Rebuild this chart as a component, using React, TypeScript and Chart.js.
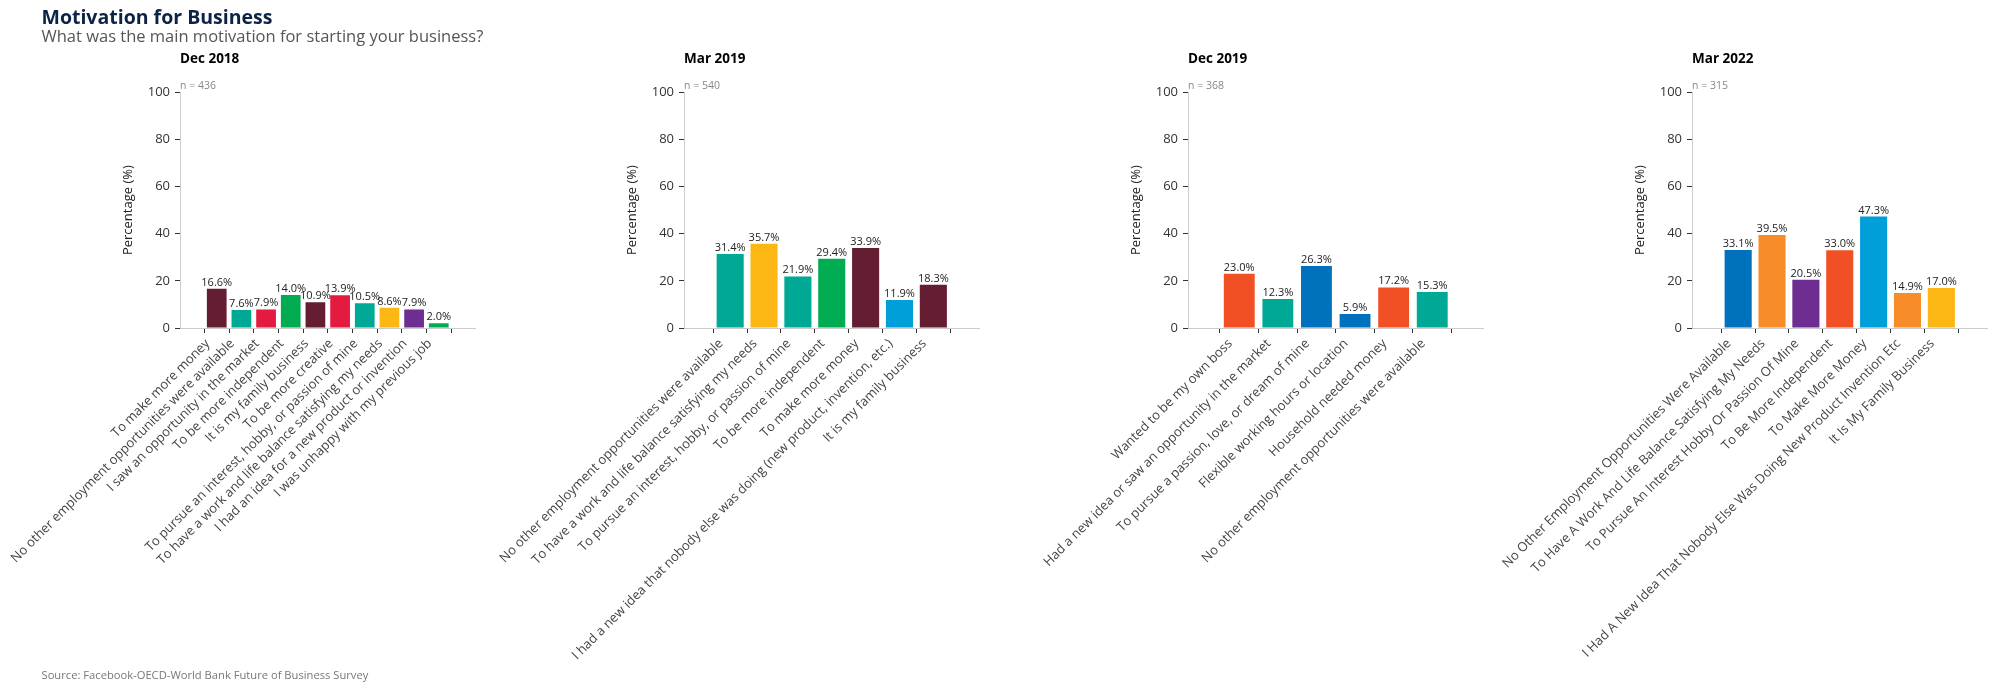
import React, { useEffect, useRef } from 'react';
import { Chart, registerables } from 'chart.js';

Chart.register(...registerables);

const FONT = '"Open Sans", "DejaVu Sans", sans-serif';

const MAROON = '#651d32';
const TEAL = '#00a996';
const RED = '#e31b40';
const GREEN = '#00ab51';
const YELLOW = '#fdb714';
const PURPLE = '#6d2d91';
const LIGHT_BLUE = '#009fda';
const BLUE = '#0071bc';
const ORANGE_RED = '#f15024';
const ORANGE = '#f78d28';

const panelTitles = ['Dec 2018', 'Mar 2019', 'Dec 2019', 'Mar 2022'];
const panelN = [436, 540, 368, 315];

const dec2018Labels = [
  'To make more money',
  'No other employment opportunities were available',
  'I saw an opportunity in the market',
  'To be more independent',
  'It is my family business',
  'To be more creative',
  'To pursue an interest, hobby, or passion of mine',
  'To have a work and life balance satisfying my needs',
  'I had an idea for a new product or invention',
  'I was unhappy with my previous job',
];
const dec2018Values = [16.6, 7.6, 7.9, 14.0, 10.9, 13.9, 10.5, 8.6, 7.9, 2.0];
const dec2018Colors = [MAROON, TEAL, RED, GREEN, MAROON, RED, TEAL, YELLOW, PURPLE, GREEN];

const mar2019Labels = [
  'No other employment opportunities were available',
  'To have a work and life balance satisfying my needs',
  'To pursue an interest, hobby, or passion of mine',
  'To be more independent',
  'To make more money',
  'I had a new idea that nobody else was doing (new product, invention, etc.)',
  'It is my family business',
];
const mar2019Values = [31.4, 35.7, 21.9, 29.4, 33.9, 11.9, 18.3];
const mar2019Colors = [TEAL, YELLOW, TEAL, GREEN, MAROON, LIGHT_BLUE, MAROON];

const dec2019Labels = [
  'Wanted to be my own boss',
  'Had a new idea or saw an opportunity in the market',
  'To pursue a passion, love, or dream of mine',
  'Flexible working hours or location',
  'Household needed money',
  'No other employment opportunities were available',
];
const dec2019Values = [23.0, 12.3, 26.3, 5.9, 17.2, 15.3];
const dec2019Colors = [ORANGE_RED, TEAL, BLUE, BLUE, ORANGE_RED, TEAL];

const mar2022Labels = [
  'No Other Employment Opportunities Were Available',
  'To Have A Work And Life Balance Satisfying My Needs',
  'To Pursue An Interest Hobby Or Passion Of Mine',
  'To Be More Independent',
  'To Make More Money',
  'I Had A New Idea That Nobody Else Was Doing New Product Invention Etc',
  'It Is My Family Business',
];
const mar2022Values = [33.1, 39.5, 20.5, 33.0, 47.3, 14.9, 17.0];
const mar2022Colors = [BLUE, ORANGE, PURPLE, ORANGE_RED, LIGHT_BLUE, ORANGE, YELLOW];

const yTicks = [0, 20, 40, 60, 80, 100];

const panelLabels = [dec2018Labels, mar2019Labels, dec2019Labels, mar2022Labels];
const panelValues = [dec2018Values, mar2019Values, dec2019Values, mar2022Values];
const panelColors = [dec2018Colors, mar2019Colors, dec2019Colors, mar2022Colors];

const W = 1997;
const H = 692;

function makeChart(canvas: HTMLCanvasElement, idx: number) {
  const labels = panelLabels[idx];
  const values = panelValues[idx];
  const colors = panelColors[idx];
  const n = labels.length;
  const pad = 0.4 + 0.05 * (n - 1 + 0.8);
  const axisX = 180 + idx * 504;
  const rightX = axisX + 295.5;
  const yWidth = 90;

  const panelPlugin = {
    id: 'panelText' + idx,
    afterDraw(chart: any) {
      const { ctx, chartArea } = chart;
      ctx.save();
      ctx.fillStyle = '#000';
      ctx.font = `bold 13.5px ${FONT}`;
      ctx.textAlign = 'left';
      ctx.textBaseline = 'alphabetic';
      ctx.fillText(panelTitles[idx], chartArea.left, 63.3);
      ctx.fillStyle = '#888';
      ctx.font = `10.5px ${FONT}`;
      ctx.fillText('n = ' + panelN[idx], chartArea.left, 89);
      ctx.save();
      ctx.translate(chartArea.left - 52, (chartArea.top + chartArea.bottom) / 2);
      ctx.rotate(-Math.PI / 2);
      ctx.fillStyle = '#222';
      ctx.font = `13px ${FONT}`;
      ctx.textAlign = 'center';
      ctx.textBaseline = 'middle';
      ctx.fillText('Percentage (%)', 0, 0);
      ctx.restore();
      const meta = chart.getDatasetMeta(0);
      ctx.fillStyle = '#222';
      ctx.font = `11px ${FONT}`;
      ctx.textAlign = 'center';
      ctx.textBaseline = 'alphabetic';
      meta.data.forEach((el: any, i: number) => {
        ctx.fillText(values[i].toFixed(1) + '%', el.x, el.y - 3);
      });
      ctx.restore();
    },
  };

  return new Chart(canvas, {
    type: 'bar',
    data: {
      datasets: [
        {
          data: values.map((v, i) => ({ x: i, y: v })),
          backgroundColor: colors,
          borderWidth: 0,
          barPercentage: 0.8,
          categoryPercentage: 1,
        },
      ],
    },
    options: {
      responsive: false,
      maintainAspectRatio: false,
      animation: false,
      devicePixelRatio: 1,
      layout: {
        padding: { left: axisX - yWidth, right: W - rightX, top: 92.3, bottom: 0 },
      },
      plugins: {
        legend: { display: false },
        tooltip: { enabled: false },
        title: { display: false },
      },
      scales: {
        x: {
          type: 'linear',
          min: -pad,
          max: n - 1 + pad,
          afterBuildTicks: (s: any) => {
            s.ticks = labels.map((_, i) => ({ value: i }));
          },
          afterFit: (s: any) => {
            s.height = H - 328;
            s.paddingLeft = 0;
            s.paddingRight = 0;
          },
          ticks: {
            autoSkip: false,
            minRotation: 45,
            maxRotation: 45,
            padding: 3,
            labelOffset: -9,
            color: '#444',
            font: { family: FONT, size: 13 },
            callback: (v: any) => labels[v] ?? '',
          },
          grid: {
            display: true,
            drawOnChartArea: false,
            drawTicks: true,
            tickLength: 5,
            tickColor: '#333',
          },
          border: { display: true, color: '#cccccc', width: 1 },
        },
        y: {
          min: 0,
          max: 100,
          afterBuildTicks: (s: any) => {
            s.ticks = yTicks.map((v) => ({ value: v }));
          },
          afterFit: (s: any) => {
            s.width = yWidth;
          },
          ticks: {
            padding: 5,
            color: '#333',
            font: { family: FONT, size: 13 },
          },
          grid: {
            display: true,
            drawOnChartArea: false,
            drawTicks: true,
            tickLength: 5,
            tickColor: '#333',
          },
          border: { display: true, color: '#cccccc', width: 1 },
        },
      },
    } as any,
    plugins: [panelPlugin],
  });
}

export default function App() {
  const refs = [useRef<HTMLCanvasElement>(null), useRef<HTMLCanvasElement>(null), useRef<HTMLCanvasElement>(null), useRef<HTMLCanvasElement>(null)];

  useEffect(() => {
    const charts = refs.map((r, i) => makeChart(r.current as HTMLCanvasElement, i));
    return () => charts.forEach((c) => c.destroy());
  }, []);

  return (
    <div style={{ position: 'absolute', left: 0, top: 0, width: W, height: H, background: '#fff', overflow: 'hidden', fontFamily: FONT }}>
      {refs.map((r, i) => (
        <canvas key={i} ref={r} width={W} height={H} style={{ position: 'absolute', left: 0, top: 0, width: W, height: H }} />
      ))}
      <div style={{ position: 'absolute', left: 41.5, top: 7.4, fontSize: 19.5, lineHeight: '19.5px', fontWeight: 700, color: '#0b2347', whiteSpace: 'nowrap' }}>
        Motivation for Business
      </div>
      <div style={{ position: 'absolute', left: 41.5, top: 27.6, fontSize: 16.5, lineHeight: '16.5px', color: '#555', whiteSpace: 'nowrap' }}>
        What was the main motivation for starting your business?
      </div>
      <div style={{ position: 'absolute', left: 41.5, top: 669.3, fontSize: 11.2, lineHeight: '11.2px', color: '#777', whiteSpace: 'nowrap' }}>
        Source: Facebook-OECD-World Bank Future of Business Survey
      </div>
    </div>
  );
}
